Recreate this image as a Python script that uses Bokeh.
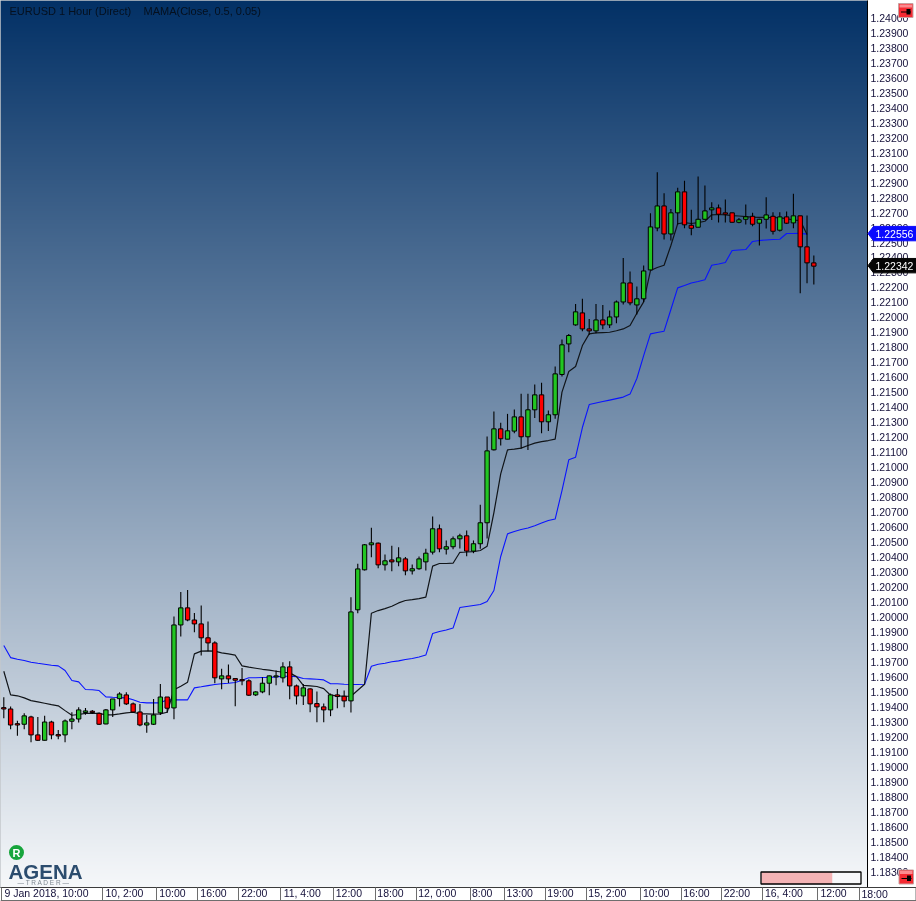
import numpy as np
from bokeh.plotting import figure
from bokeh.core.properties import value
from bokeh.models import Range1d, FixedTicker, NumeralTickFormatter, ColumnDataSource
from bokeh.embed import file_html
from bokeh.resources import INLINE

open_ = [1.19395,1.19386,1.19288,1.19284,1.19333,1.19213,1.19177,1.19299,1.19215,1.19213,
         1.19304,1.19319,1.19362,1.19371,1.19357,1.19286,1.19380,1.19455,1.19480,1.19420,
         1.19366,1.19279,1.19284,1.19360,1.19466,1.19393,1.19947,1.20061,1.19980,1.19954,
         1.19861,1.19827,1.19587,1.19607,1.19589,1.19582,1.19574,1.19480,1.19500,1.19558,
         1.19600,1.19594,1.19667,1.19540,1.19473,1.19520,1.19422,1.19400,1.19380,1.19480,
         1.19471,1.19440,1.20048,1.20315,1.20482,1.20493,1.20348,1.20381,1.20368,1.20388,
         1.20308,1.20322,1.20368,1.20433,1.20589,1.20453,1.20469,1.20522,1.20542,1.20440,
         1.20489,1.20629,1.21116,1.21256,1.21187,1.21241,1.21336,1.21203,1.21383,1.21483,
         1.21303,1.21350,1.21619,1.21823,1.21950,1.22030,1.21923,1.21910,1.21983,1.21950,
         1.22003,1.22103,1.22230,1.22083,1.22124,1.22317,1.22597,1.22744,1.22557,1.22698,
         1.22838,1.22615,1.22602,1.22655,1.22718,1.22731,1.22698,1.22698,1.22635,1.22655,
         1.22675,1.22629,1.22655,1.22675,1.22582,1.22671,1.22631,1.22678,1.22471,1.22364]
high_ = [1.19464,1.19402,1.19308,1.19357,1.19340,1.19333,1.19340,1.19308,1.19246,1.19315,
         1.19364,1.19397,1.19393,1.19380,1.19362,1.19386,1.19453,1.19498,1.19498,1.19429,
         1.19420,1.19346,1.19453,1.19553,1.19466,1.20003,1.20167,1.20181,1.20027,1.20077,
         1.19970,1.19838,1.19654,1.19683,1.19589,1.19660,1.19585,1.19505,1.19598,1.19609,
         1.19643,1.19698,1.19705,1.19549,1.19553,1.19525,1.19502,1.19422,1.19489,1.19520,
         1.19509,1.20132,1.20355,1.20488,1.20595,1.20497,1.20417,1.20475,1.20466,1.20400,
         1.20351,1.20404,1.20455,1.20671,1.20618,1.20511,1.20537,1.20555,1.20578,1.20511,
         1.20749,1.21205,1.21372,1.21296,1.21356,1.21385,1.21490,1.21490,1.21552,1.21563,
         1.21379,1.21672,1.21852,1.21890,1.22090,1.22124,1.21990,1.22090,1.22083,1.22046,
         1.22112,1.22397,1.22306,1.22206,1.22346,1.22695,1.22969,1.22829,1.22724,1.22865,
         1.22913,1.22718,1.22940,1.22880,1.22769,1.22753,1.22787,1.22698,1.22664,1.22753,
         1.22698,1.22658,1.22802,1.22702,1.22702,1.22707,1.22825,1.22678,1.22680,1.22413]
low_ =  [1.19324,1.19251,1.19208,1.19251,1.19164,1.19173,1.19175,1.19184,1.19184,1.19164,
         1.19251,1.19295,1.19348,1.19353,1.19279,1.19284,1.19333,1.19402,1.19413,1.19360,
         1.19271,1.19228,1.19279,1.19346,1.19360,1.19317,1.19869,1.19972,1.19898,1.19743,
         1.19772,1.19558,1.19518,1.19560,1.19405,1.19545,1.19473,1.19473,1.19491,1.19478,
         1.19545,1.19563,1.19451,1.19416,1.19413,1.19364,1.19298,1.19298,1.19338,1.19391,
         1.19398,1.19362,1.20025,1.20310,1.20399,1.20326,1.20310,1.20306,1.20339,1.20279,
         1.20284,1.20315,1.20311,1.20417,1.20433,1.20417,1.20453,1.20458,1.20406,1.20426,
         1.20455,1.20524,1.21112,1.21145,1.21187,1.21227,1.21125,1.21114,1.21328,1.21227,
         1.21241,1.21323,1.21605,1.21767,1.21945,1.21908,1.21885,1.21894,1.21921,1.21930,
         1.21961,1.22086,1.22081,1.22019,1.22103,1.22317,1.22575,1.22520,1.22513,1.22620,
         1.22595,1.22549,1.22602,1.22653,1.22651,1.22633,1.22633,1.22633,1.22629,1.22620,
         1.22609,1.22480,1.22593,1.22553,1.22573,1.22624,1.22595,1.22161,1.22228,1.22219]
close_ = [1.19386,1.19279,1.19279,1.19340,1.19213,1.19177,1.19299,1.19213,1.19206,1.19306,
          1.19319,1.19380,1.19373,1.19362,1.19284,1.19380,1.19453,1.19486,1.19420,1.19366,
          1.19279,1.19293,1.19346,1.19466,1.19391,1.19947,1.20061,1.19980,1.19954,1.19861,
          1.19827,1.19594,1.19607,1.19587,1.19578,1.19574,1.19478,1.19500,1.19558,1.19607,
          1.19607,1.19667,1.19540,1.19473,1.19527,1.19420,1.19400,1.19380,1.19480,1.19469,
          1.19440,1.20034,1.20321,1.20482,1.20495,1.20348,1.20375,1.20368,1.20395,1.20308,
          1.20322,1.20388,1.20426,1.20589,1.20455,1.20469,1.20522,1.20542,1.20440,1.20489,
          1.20629,1.21109,1.21256,1.21190,1.21243,1.21336,1.21203,1.21383,1.21483,1.21303,
          1.21350,1.21623,1.21817,1.21879,1.22037,1.21923,1.21910,1.21983,1.21950,1.22003,
          1.22103,1.22230,1.22097,1.22124,1.22310,1.22604,1.22744,1.22557,1.22698,1.22838,
          1.22618,1.22595,1.22655,1.22711,1.22731,1.22689,1.22689,1.22635,1.22651,1.22671,
          1.22622,1.22655,1.22684,1.22575,1.22671,1.22629,1.22678,1.22471,1.22364,1.22342]
fama = [1.19810,1.19729,1.19718,1.19710,1.19698,1.19691,1.19685,1.19678,1.19674,1.19643,
        1.19576,1.19567,1.19516,1.19514,1.19509,1.19467,1.19464,1.19462,1.19460,1.19447,
        1.19431,1.19427,1.19427,1.19427,1.19447,1.19447,1.19447,1.19447,1.19527,1.19534,
        1.19542,1.19549,1.19554,1.19558,1.19563,1.19578,1.19594,1.19594,1.19596,1.19596,
        1.19600,1.19604,1.19604,1.19602,1.19589,1.19587,1.19584,1.19580,1.19554,1.19554,
        1.19551,1.19549,1.19549,1.19551,1.19671,1.19685,1.19691,1.19701,1.19707,1.19716,
        1.19723,1.19733,1.19746,1.19890,1.19903,1.19913,1.19926,1.20063,1.20070,1.20077,
        1.20083,1.20103,1.20177,1.20404,1.20555,1.20571,1.20584,1.20594,1.20609,1.20627,
        1.20644,1.20654,1.20844,1.21049,1.21067,1.21265,1.21418,1.21428,1.21438,1.21448,
        1.21458,1.21468,1.21488,1.21592,1.21745,1.21890,1.21899,1.21908,1.22053,1.22197,
        1.22213,1.22230,1.22240,1.22251,1.22348,1.22356,1.22366,1.22447,1.22450,1.22453,
        1.22507,1.22513,1.22517,1.22520,1.22522,1.22560,1.22560,1.22561,1.22556]
mama = [1.19638,1.19480,1.19474,1.19460,1.19442,1.19433,1.19424,1.19415,1.19407,1.19375,
        1.19344,1.19349,1.19357,1.19357,1.19357,1.19347,1.19347,1.19353,1.19360,1.19364,
        1.19353,1.19353,1.19351,1.19353,1.19364,1.19514,1.19538,1.19565,1.19754,1.19772,
        1.19774,1.19772,1.19761,1.19754,1.19745,1.19674,1.19665,1.19658,1.19651,1.19645,
        1.19638,1.19631,1.19627,1.19602,1.19544,1.19540,1.19536,1.19522,1.19478,1.19474,
        1.19471,1.19471,1.19511,1.19551,1.20025,1.20043,1.20056,1.20072,1.20094,1.20110,
        1.20116,1.20123,1.20133,1.20340,1.20357,1.20357,1.20359,1.20432,1.20434,1.20437,
        1.20444,1.20472,1.20697,1.20956,1.21116,1.21121,1.21127,1.21145,1.21161,1.21171,
        1.21178,1.21187,1.21501,1.21639,1.21672,1.21812,1.21890,1.21897,1.21899,1.21901,
        1.21911,1.21923,1.21946,1.22028,1.22104,1.22313,1.22333,1.22348,1.22480,1.22625,
        1.22633,1.22627,1.22633,1.22642,1.22685,1.22687,1.22684,1.22680,1.22677,1.22673,
        1.22669,1.22668,1.22667,1.22667,1.22665,1.22660,1.22649,1.22647,1.22553]

time_labels = ["9 Jan 2018, 10:00","10, 2:00","10:00","16:00","22:00","11, 4:00","12:00","18:00",
               "12, 0:00","8:00","13:00","19:00","15, 2:00","10:00","16:00","22:00","16, 4:00","12:00"]
time_label_bars = [6.27,17.73,24.78,30.8,36.8,43.84,50.7,56.8,63.68,70.28,75.79,81.78,88.66,95.84,
                   101.76,107.7,114.6,121.9]
time_separator_bars = [-0.34,14.5,22.4,28.4,34.5,40.6,48.5,54.6,60.6,68.6,73.6,79.6,85.6,93.5,99.5,
                       105.5,111.5,119.5,125.7]
last_time_label = "18:00"
price_ticks = [round(1.183 + 0.001 * k, 3) for k in range(58)]
last_fama = 1.22556
last_close = 1.22342

FONT = "Liberation Sans"
W, H = 916, 901
FRAME_W, FRAME_H = 867, 887
BAR_PX = 6.807
BAR0_PX = 3.3
PX_PER_PRICE = 14980.0
PRICE_TOP = 1.24 + 17.3 / PX_PER_PRICE
PRICE_BOT = PRICE_TOP - FRAME_H / PX_PER_PRICE
X0 = -BAR0_PX / BAR_PX
X1 = (FRAME_W - BAR0_PX) / BAR_PX

p = figure(width=W, height=H, output_backend="svg", toolbar_location=None,
           x_range=Range1d(X0, X1), y_range=Range1d(PRICE_BOT, PRICE_TOP),
           x_axis_location="below", y_axis_location="right",
           min_border_left=0, min_border_top=0, min_border_right=W - FRAME_W,
           min_border_bottom=H - FRAME_H, border_fill_color="white",
           outline_line_color="#c4c8cc", background_fill_color="#8da2b8",
           styles={"position": "fixed", "left": "0px", "top": "0px"})
p.grid.visible = False

# background gradient
top_c = np.array([3, 49, 102.0])
bot_c = np.array([246, 248, 250.0])
t = np.linspace(1, 0, FRAME_H)[:, None]  # row 0 = bottom of the image
rgb = (top_c * (1 - t) + bot_c * t).astype(np.uint32)
img = (255 << 24) | (rgb[:, 2] << 16) | (rgb[:, 1] << 8) | rgb[:, 0]
p.image_rgba(image=[img.reshape(FRAME_H, 1).astype(np.uint32)], x=[X0], y=[PRICE_BOT],
             dw=[X1 - X0], dh=[PRICE_TOP - PRICE_BOT], level="image")

bars = list(range(len(open_)))
p.line(list(range(len(fama))), fama, line_color="#0a14ff", line_width=1.1)
p.line(list(range(len(mama))), mama, line_color="#101418", line_width=1.2)

src = ColumnDataSource(dict(
    x=bars, o=open_, h=high_, l=low_, c=close_,
    top=[max(a, b) for a, b in zip(open_, close_)],
    bot=[min(a, b) for a, b in zip(open_, close_)],
    col=["#22c622" if c > o else "#ff0000" for o, c in zip(open_, close_)]))
p.segment("x", "h", "x", "l", source=src, line_color="black", line_width=1.1)
p.vbar("x", width=0.64, top="top", bottom="bot", source=src, fill_color="col",
       line_color="black", line_width=1)

# axes
ya = p.yaxis[0]
ya.ticker = FixedTicker(ticks=price_ticks)
ya.formatter = NumeralTickFormatter(format="0.00000")
ya.major_tick_in = 0
ya.major_tick_out = 0
ya.minor_tick_in = 0
ya.minor_tick_out = 0
ya.major_label_standoff = 3
ya.major_label_text_font = FONT
ya.major_label_text_font_size = "10.5px"
ya.major_label_text_color = "#14103a"
ya.axis_line_color = "black"

xa = p.xaxis[0]
xa.ticker = FixedTicker(ticks=time_label_bars, minor_ticks=time_separator_bars)
xa.major_label_overrides = dict(zip(time_label_bars, time_labels))
xa.major_tick_in = 0
xa.major_tick_out = 0
xa.minor_tick_in = 0
xa.minor_tick_out = 13
xa.minor_tick_line_color = "#6e6e6e"
xa.major_label_standoff = -14
xa.major_label_text_font = FONT
xa.major_label_text_font_size = "10.5px"
xa.major_label_text_color = "#14103a"
xa.axis_line_color = "#3c3c3c"

# transparent sheet over the whole page, in page pixels, for what is not part of the plot area
ov = figure(width=W, height=H, output_backend="svg", toolbar_location=None,
            x_range=Range1d(0, W), y_range=Range1d(H, 0), x_axis_type=None, y_axis_type=None,
            min_border=0, background_fill_color=None, border_fill_color=None,
            outline_line_color=None,
            styles={"position": "fixed", "left": "0px", "top": "0px", "pointer-events": "none"})
ov.grid.visible = False


def price_px(price):
    return (PRICE_TOP - price) * PX_PER_PRICE


def txt(text, x, y, size, color="black", style="normal", align="left"):
    ov.text([x], [y], text=[text], text_font=value(FONT), text_font_size=size, text_color=color,
            text_font_style=style, text_align=align, text_baseline="middle")


def box(l, r, t_, b, fill, line=None, lw=1):
    ov.quad(left=[l], right=[r], top=[t_], bottom=[b], fill_color=fill, line_color=line, line_width=lw)


# legend line
txt("EURUSD 1 Hour (Direct)", 9, 10.5, "11px", "#05101e")
txt("MAMA(Close, 0.5, 0.05)", 143, 10.5, "11px", "#05101e")

# price tags
for price, col in ((last_fama, "#0a0aff"), (last_close, "#050505")):
    c = price_px(price)
    ov.patch([867.5, 873, 916, 916, 873], [c - 0.5, c - 7.7, c - 7.7, c + 6.7, c + 6.7],
             fill_color=col, line_color=col)
    txt(f"{price:.5f}", 875, c, "10.5px", "white")

# axis strip end
txt(last_time_label, 861, 893.7, "10.5px", "#14103a")
box(0, 916, 899.5, 900.5, "#6e6e6e")
box(867, 916, 886.5, 887.5, "#3c3c3c")
box(915, 916, 887, 900, "#6e6e6e")

# scroller
box(761, 832, 871.5, 883.5, "#f4b3b5")
box(832, 860.5, 871.5, 883.5, "#f7f8fa")
box(760.5, 860.5, 871.5, 883.5, None, "black", 1.3)

# pin buttons
for (bx, by) in ((898, 3), (898.5, 869.5)):
    box(bx, bx + 14.5, by, by + 14, "#f42a32", "#c8a0a0")
    box(bx + 1, bx + 13.5, by + 1, by + 4, "#fb8a8e")
    box(bx + 2.5, bx + 12.5, by + 8, by + 9, "black")
    box(bx + 8, bx + 12, by + 5.5, by + 11, "black")

# logo
ov.scatter([16], [852], size=15, marker="circle", fill_color="#17a53c", line_color=None)
txt("R", 16, 852.5, "11px", "white", "bold", "center")
txt("AGENA", 45, 870.5, "20.5px", "#2b4c6e", "bold", "center")
txt("—  T R A D E R  —", 45, 882, "6.5px", "#7d8790", "normal", "center")

open("out.html", "w").write(file_html([p, ov], INLINE))
